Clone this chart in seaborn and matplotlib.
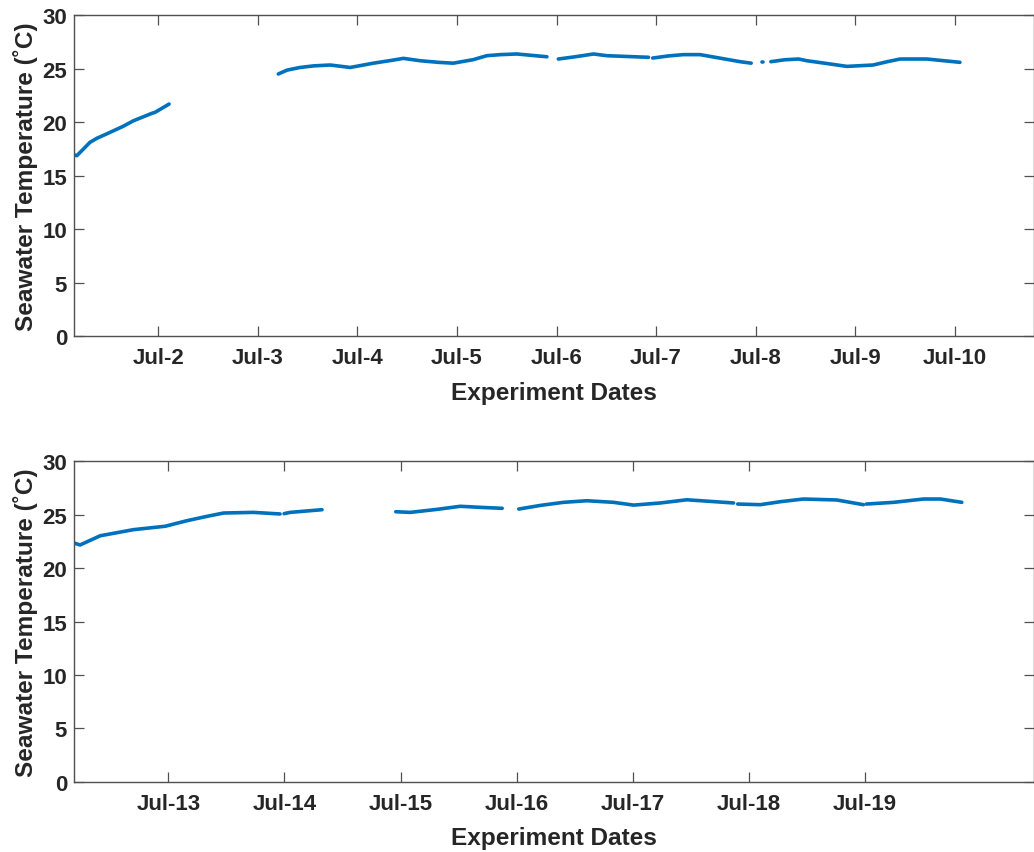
import matplotlib
matplotlib.use("Agg")
import matplotlib.pyplot as plt
import numpy as np
import pandas as pd
import seaborn as sns

# ---- Seawater temperature log, first run (Jul 1 - Jul 10) ----
run1_time = [
    "2019-07-01 03:40", "2019-07-01 04:20", "2019-07-01 07:30", "2019-07-01 09:10",
    "2019-07-01 11:35", "2019-07-01 15:30", "2019-07-01 18:00",
    "2019-07-01 22:25", "2019-07-01 23:10", "2019-07-02 02:35",
    "2019-07-03 04:55", "2019-07-03 07:00", "2019-07-03 10:10", "2019-07-03 13:30",
    "2019-07-03 17:25", "2019-07-03 22:15", "2019-07-04 03:50", "2019-07-04 08:00",
    "2019-07-04 11:05", "2019-07-04 15:05", "2019-07-04 19:30", "2019-07-04 23:05",
    "2019-07-05 03:55", "2019-07-05 07:10", "2019-07-05 10:30", "2019-07-05 14:25",
    "2019-07-05 21:40",
    "2019-07-06 00:25", "2019-07-06 04:30", "2019-07-06 08:55", "2019-07-06 12:05",
    "2019-07-06 22:10",
    "2019-07-06 23:10", "2019-07-07 03:00", "2019-07-07 06:35", "2019-07-07 10:35",
    "2019-07-07 20:15", "2019-07-07 22:55",
    "2019-07-08 01:35", "2019-07-08 01:50",
    "2019-07-08 03:40", "2019-07-08 07:00", "2019-07-08 10:20", "2019-07-08 12:20",
    "2019-07-08 17:30", "2019-07-08 22:00", "2019-07-09 04:20", "2019-07-09 07:30",
    "2019-07-09 10:50", "2019-07-09 17:15", "2019-07-10 01:15",
]
run1_temp = [
    16.94, 16.85, 18.10, 18.48, 18.90, 19.60, 20.12, 20.81, 20.90, 21.68,
    24.49, 24.85, 25.10, 25.25, 25.33, 25.10, 25.50, 25.75, 25.95, 25.73,
    25.58, 25.50, 25.83, 26.20, 26.30, 26.36, 26.10,
    25.89, 26.10, 26.36, 26.20, 26.05,
    25.98, 26.18, 26.30, 26.30, 25.64, 25.50,
    25.58, 25.58,
    25.64, 25.82, 25.89, 25.73, 25.45, 25.20, 25.33, 25.62, 25.89, 25.89, 25.58,
]
run1_segment = [1] * 10 + [2] * 17 + [3] * 5 + [4] * 6 + [5] * 2 + [6] * 11

# ---- Seawater temperature log, second run (Jul 12 - Jul 19) ----
run2_time = [
    "2019-07-12 04:30", "2019-07-12 05:45", "2019-07-12 09:55", "2019-07-12 16:45",
    "2019-07-12 23:20", "2019-07-13 03:50", "2019-07-13 08:00", "2019-07-13 11:25",
    "2019-07-13 17:35", "2019-07-13 23:05",
    "2019-07-13 23:55", "2019-07-14 01:10", "2019-07-14 07:45",
    "2019-07-14 23:00", "2019-07-15 02:00", "2019-07-15 07:30", "2019-07-15 12:20",
    "2019-07-15 16:30", "2019-07-15 21:00",
    "2019-07-16 00:25", "2019-07-16 05:00", "2019-07-16 09:40", "2019-07-16 14:30",
    "2019-07-16 20:00", "2019-07-17 00:10", "2019-07-17 05:40", "2019-07-17 11:10",
    "2019-07-17 20:50",
    "2019-07-17 21:40", "2019-07-18 02:20", "2019-07-18 06:30", "2019-07-18 11:15",
    "2019-07-18 18:10", "2019-07-18 23:40",
    "2019-07-19 00:15", "2019-07-19 05:55", "2019-07-19 12:05", "2019-07-19 15:35",
    "2019-07-19 20:00",
]
run2_temp = [
    22.35, 22.17, 23.03, 23.60, 23.92, 24.44, 24.85, 25.16, 25.22, 25.07,
    25.10, 25.22, 25.47,
    25.28, 25.22, 25.50, 25.79, 25.69, 25.60,
    25.53, 25.88, 26.16, 26.31, 26.16, 25.90, 26.10, 26.40, 26.10,
    26.00, 25.94, 26.22, 26.47, 26.38, 25.94,
    26.00, 26.16, 26.47, 26.47, 26.16,
]
run2_segment = [1] * 10 + [2] * 3 + [3] * 6 + [4] * 9 + [5] * 6 + [6] * 5

# ---- Axis extents and ticks ----
run1_xlim = ["2019-07-01 03:40", "2019-07-10 19:00"]
run2_xlim = ["2019-07-12 04:30", "2019-07-20 10:50"]
run1_ticks = ["2019-07-%02d" % d for d in range(2, 11)]
run2_ticks = ["2019-07-%02d" % d for d in range(13, 20)]
run1_ticklabels = ["Jul-%d" % d for d in range(2, 11)]
run2_ticklabels = ["Jul-%d" % d for d in range(13, 20)]
temp_ticks = [0, 5, 10, 15, 20, 25, 30]

LINE_COLOR = "#0072BD"
INK = "#262626"
FRAME = "#505050"

sns.set_style("ticks")
plt.rcParams["font.family"] = ["Liberation Sans", "DejaVu Sans"]
plt.rcParams["font.weight"] = "bold"
plt.rcParams["axes.labelweight"] = "bold"

fig = plt.figure(figsize=(10.34, 8.53), dpi=100)
ax_top = fig.add_axes([0.0716, 0.6049, 0.928, 0.3763])
ax_bot = fig.add_axes([0.0716, 0.0824, 0.928, 0.3756])

panels = [
    (ax_top, run1_time, run1_temp, run1_segment, run1_xlim, run1_ticks, run1_ticklabels),
    (ax_bot, run2_time, run2_temp, run2_segment, run2_xlim, run2_ticks, run2_ticklabels),
]

for ax, times, temps, segs, xlim, ticks, ticklabels in panels:
    df = pd.DataFrame({
        "time": pd.to_datetime(times),
        "temp": temps,
        "segment": segs,
    })
    # each logging segment is drawn on its own so the gaps stay open
    sns.lineplot(
        data=df, x="time", y="temp", units="segment", estimator=None,
        color=LINE_COLOR, linewidth=2.6, ax=ax, legend=False,
        solid_capstyle="round", solid_joinstyle="round",
    )
    ax.set_xlim(pd.to_datetime(xlim[0]), pd.to_datetime(xlim[1]))
    ax.set_ylim(temp_ticks[0], temp_ticks[-1])
    ax.set_xticks(pd.to_datetime(ticks))
    ax.set_xticklabels(ticklabels)
    ax.set_yticks(temp_ticks)
    ax.set_yticklabels([str(t) for t in temp_ticks])

    for side in ["left", "right", "top", "bottom"]:
        ax.spines[side].set_visible(True)
        ax.spines[side].set_color(FRAME)
        ax.spines[side].set_linewidth(1.0)
    ax.tick_params(axis="both", direction="in", length=7.5, width=0.9,
                   color=FRAME, top=True, right=True,
                   labelsize=16, labelcolor=INK)
    ax.tick_params(axis="x", pad=8)
    ax.tick_params(axis="y", pad=5)
    for lbl in ax.get_xticklabels() + ax.get_yticklabels():
        lbl.set_fontweight("bold")

    ax.set_xlabel("Experiment Dates", fontsize=17.6, fontweight="bold",
                  color=INK, labelpad=9)
    ax.set_ylabel("Seawater Temperature (˚C)", fontsize=17.6, fontweight="bold",
                  color=INK, labelpad=3)
    ax.grid(False)

fig.savefig("out.png", dpi=100)
